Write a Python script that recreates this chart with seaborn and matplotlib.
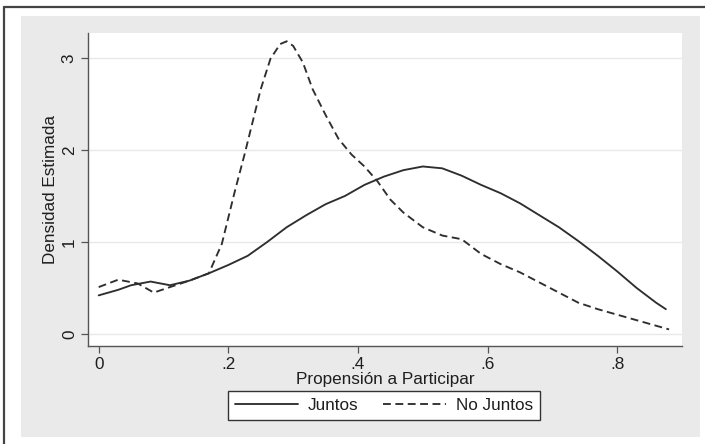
import matplotlib
matplotlib.use("Agg")
import matplotlib.pyplot as plt
from matplotlib.patches import Rectangle
from matplotlib.lines import Line2D
import seaborn as sns
import pandas as pd

# ---- data ----
juntos_x = [0.0, 0.03, 0.05, 0.08, 0.11, 0.14, 0.17, 0.20, 0.23, 0.26, 0.29, 0.32,
            0.35, 0.38, 0.41, 0.44, 0.47, 0.50, 0.53, 0.56, 0.59, 0.62, 0.65, 0.68,
            0.71, 0.74, 0.77, 0.80, 0.83, 0.86, 0.875]
juntos_y = [0.42, 0.48, 0.53, 0.57, 0.53, 0.58, 0.66, 0.75, 0.85, 1.00, 1.16, 1.29,
            1.41, 1.50, 1.62, 1.71, 1.78, 1.82, 1.80, 1.72, 1.62, 1.53, 1.42, 1.29,
            1.16, 1.01, 0.85, 0.68, 0.50, 0.34, 0.27]

nojuntos_x = [0.0, 0.03, 0.06, 0.085, 0.11, 0.14, 0.17, 0.19, 0.21, 0.225, 0.25, 0.265,
              0.28, 0.29, 0.30, 0.315, 0.33, 0.35, 0.37, 0.39, 0.41, 0.43, 0.45, 0.47,
              0.50, 0.53, 0.56, 0.59, 0.62, 0.65, 0.68, 0.71, 0.74, 0.77, 0.80, 0.84, 0.88]
nojuntos_y = [0.51, 0.59, 0.55, 0.45, 0.51, 0.58, 0.66, 0.98, 1.55, 1.95, 2.66, 2.99,
              3.15, 3.18, 3.13, 2.95, 2.66, 2.38, 2.12, 1.95, 1.82, 1.66, 1.46, 1.32,
              1.16, 1.07, 1.03, 0.87, 0.76, 0.67, 0.56, 0.45, 0.34, 0.27, 0.21, 0.13, 0.05]

series_labels = ["Juntos", "No Juntos"]
x_ticks = [0, 0.2, 0.4, 0.6, 0.8]
x_ticklabels = ["0", ".2", ".4", ".6", ".8"]
y_ticks = [0, 1, 2, 3]
y_ticklabels = ["0", "1", "2", "3"]
x_label = "Propensión a Participar"
y_label = "Densidad Estimada"

# ---- style ----
sns.set_style("white")
plt.rcParams['font.family'] = ['Liberation Sans', 'DejaVu Sans']

W, H = 705, 444
FS = 12.3
fig = plt.figure(figsize=(W / 100, H / 100), dpi=100, facecolor="white")

# gray background panel (Stata-like)
fig.patches.append(Rectangle((21 / W, 1 - 437 / H), (700 - 21) / W, (437 - 16) / H,
                             transform=fig.transFigure, facecolor="#eaeaea",
                             edgecolor="none", zorder=-10))
# outer dark border (top and left only)
fig.lines.append(Line2D([3.5 / W, 1.0], [1 - 7.5 / H, 1 - 7.5 / H],
                        transform=fig.transFigure, color="#444444", lw=1.6, zorder=-5))
fig.lines.append(Line2D([3.5 / W, 3.5 / W], [0.0, 1 - 7.5 / H],
                        transform=fig.transFigure, color="#444444", lw=1.6, zorder=-5))

ax = fig.add_axes([88 / W, 1 - 346 / H, (682 - 88) / W, (346 - 33) / H])
ax.set_facecolor("white")
ax.set_zorder(1)

line_color = "#2e2e2e"
df_j = pd.DataFrame({"x": juntos_x, "y": juntos_y})
df_n = pd.DataFrame({"x": nojuntos_x, "y": nojuntos_y})
sns.lineplot(data=df_j, x="x", y="y", ax=ax, color=line_color, lw=1.35,
             label=series_labels[0], sort=False)
sns.lineplot(data=df_n, x="x", y="y", ax=ax, color=line_color, lw=1.35,
             linestyle=(0, (4.2, 2.4)), label=series_labels[1], sort=False)

ax.set_xlim(-0.0165, 0.8999)
ax.set_ylim(-0.13, 3.27)
ax.set_xticks(x_ticks)
ax.set_xticklabels(x_ticklabels)
ax.set_yticks(y_ticks)
ax.set_yticklabels(y_ticklabels, rotation=90, va="center")
ax.grid(axis="y", color="#e8e8e8", lw=1.0)
ax.grid(axis="x", visible=False)

for s in ["top", "right"]:
    ax.spines[s].set_visible(False)
for s in ["left", "bottom"]:
    ax.spines[s].set_color("#555555")
    ax.spines[s].set_linewidth(1.0)

ax.tick_params(axis="both", direction="out", length=5, width=0.9, color="#555555",
               labelsize=FS, labelcolor="#1e1e1e", pad=3, left=True, bottom=True)
ax.set_xlabel(x_label, fontsize=FS, color="#1e1e1e", labelpad=0)
ax.set_ylabel(y_label, fontsize=FS, color="#1e1e1e", labelpad=3)

leg = ax.legend(loc="center", bbox_to_anchor=(384 / W, 1 - 405.5 / H),
                bbox_transform=fig.transFigure, ncol=2, fontsize=FS,
                frameon=True, fancybox=False, edgecolor="#333333",
                handlelength=3.7, columnspacing=1.4, handletextpad=0.6,
                borderpad=0.4)
leg.get_frame().set_linewidth(1.0)
leg.get_frame().set_facecolor("white")
leg.get_frame().set_alpha(1)
for t in leg.get_texts():
    t.set_color("#1e1e1e")

fig.savefig("out.png", dpi=100, facecolor="white")
